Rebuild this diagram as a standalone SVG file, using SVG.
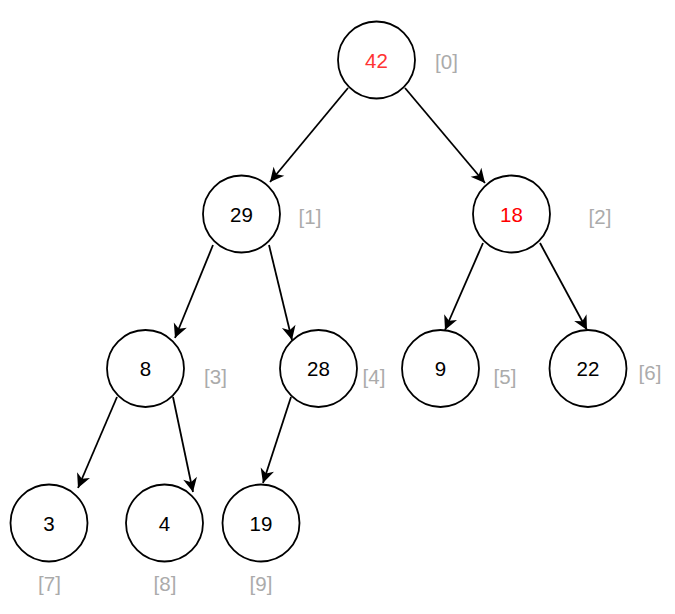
<svg xmlns="http://www.w3.org/2000/svg" width="675" height="614" viewBox="0 0 675 614">
<defs>
<style>
.n circle{fill:#fff;stroke:#000;stroke-width:1.8}
.n text{font-family:"Liberation Sans",Arial,sans-serif;font-size:20.5px;text-anchor:middle;fill:#000}
.n text.red{fill:#FF3333}
.idx{font-family:"Liberation Sans",Arial,sans-serif;font-size:20.5px;text-anchor:middle;fill:#ABABAB}
.e line{stroke:#000;stroke-width:1.8;marker-end:url(#arr)}
</style>
<marker id="arr" viewBox="-15 -8 16 16" refX="0" refY="0" markerWidth="16" markerHeight="16" orient="auto" markerUnits="userSpaceOnUse">
<path d="M0,0 L-14,-7 L-10,0 L-14,7 Z" fill="#000"/>
</marker>
</defs>
<rect width="675" height="614" fill="#fff"/>
<g id="edges" class="e">
<line x1="348" y1="88" x2="270" y2="182"/>
<line x1="405" y1="88" x2="485" y2="183"/>
<line x1="213" y1="245" x2="175" y2="338"/>
<line x1="269" y1="245" x2="292" y2="340"/>
<line x1="483" y1="243" x2="445" y2="330"/>
<line x1="540" y1="243" x2="587" y2="330"/>
<line x1="117" y1="397" x2="78" y2="488"/>
<line x1="173" y1="397" x2="193" y2="492"/>
<line x1="291" y1="397" x2="263" y2="483"/>
</g>
<g id="n0" class="n"><circle cx="376.5" cy="60" r="38.5"/><text class="red" x="376.5" y="67.5">42</text></g>
<g id="n1" class="n"><circle cx="241.5" cy="214" r="38.5"/><text x="241.5" y="221.5">29</text></g>
<g id="n2" class="n"><circle cx="511.5" cy="214" r="38.5"/><text x="511.5" y="221.5" style="fill:#FF0000">18</text></g>
<g id="n3" class="n"><circle cx="145.5" cy="368.5" r="38.5"/><text x="145.5" y="376">8</text></g>
<g id="n4" class="n"><circle cx="318.5" cy="368.5" r="38.5"/><text x="318.5" y="376">28</text></g>
<g id="n5" class="n"><circle cx="440.5" cy="368.5" r="38.5"/><text x="440.5" y="376">9</text></g>
<g id="n6" class="n"><circle cx="588" cy="368.5" r="38.5"/><text x="588" y="376">22</text></g>
<g id="n7" class="n"><circle cx="49" cy="523" r="38.5"/><text x="49" y="530.5">3</text></g>
<g id="n8" class="n"><circle cx="164.5" cy="523" r="38.5"/><text x="164.5" y="530.5">4</text></g>
<g id="n9" class="n"><circle cx="261" cy="523" r="38.5"/><text x="261" y="530.5">19</text></g>
<g id="labels">
<text class="idx" x="446.5" y="68.5">[0]</text>
<text class="idx" x="310" y="223.5">[1]</text>
<text class="idx" x="600" y="223.5">[2]</text>
<text class="idx" x="215.5" y="383.5">[3]</text>
<text class="idx" x="374" y="383.5">[4]</text>
<text class="idx" x="505" y="383.5">[5]</text>
<text class="idx" x="650" y="379.5">[6]</text>
<text class="idx" x="49.5" y="590.5">[7]</text>
<text class="idx" x="165" y="590.5">[8]</text>
<text class="idx" x="261" y="590.5">[9]</text>
</g>
</svg>
